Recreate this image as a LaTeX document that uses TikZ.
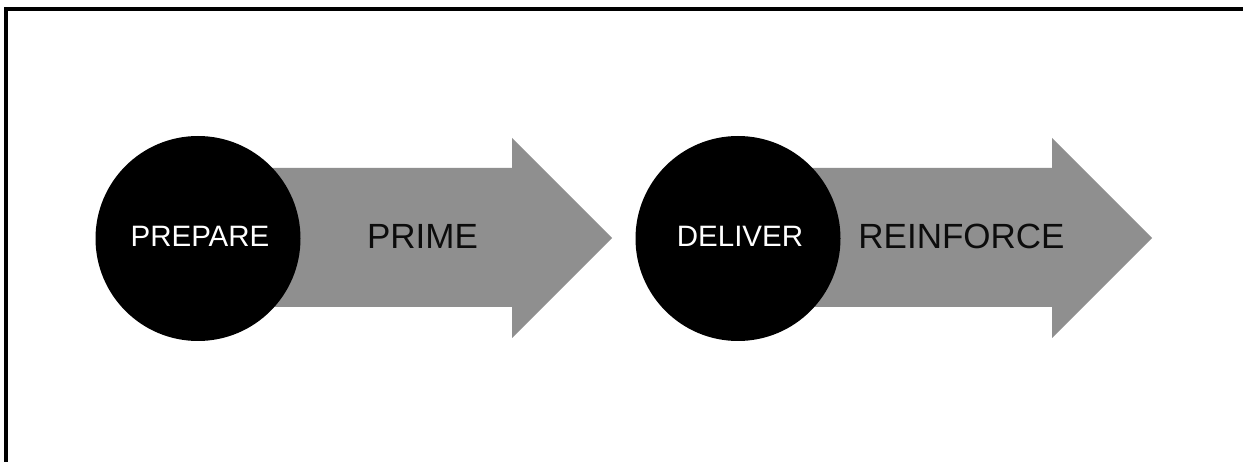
\documentclass[tikz,border=0pt]{standalone}
\usepackage{fontspec}
\setmainfont{Liberation Sans}
\definecolor{arrowgray}{RGB}{143,143,143}
\definecolor{labelink}{RGB}{12,12,12}
\tikzset{
  stagearrow/.style={fill=arrowgray, draw=none},
  stagecircle/.style={circle, fill=black, draw=none, minimum size=205pt, inner sep=0pt},
  circlelabel/.style={text=white, font=\fontsize{29.5}{30}\selectfont, inner sep=0pt, anchor=center},
  arrowlabel/.style={text=labelink, font=\fontsize{35}{36}\selectfont, inner sep=0pt, anchor=center},
  frameline/.style={draw=black, line width=3.5pt}
}
\begin{document}
\begin{tikzpicture}[x=1pt,y=-1pt]
\useasboundingbox (0,0) rectangle (1243,462);
\fill[white] (0,0) rectangle (1243,462);
% frame (top and left edges)
\draw[frameline] (6,464) -- (6,9) -- (1245,9);
% first arrow
\fill[stagearrow] (198,168) -- (512,168) -- (512,138) -- (612,238) -- (512,338) -- (512,307) -- (198,307) -- cycle;
\node[stagecircle] (c1) at (198,238.5) {};
\node[circlelabel] (t1) at (200,236) {PREPARE};
\node[arrowlabel] (a1) at (422.5,236.5) {PRIME};
% second arrow
\fill[stagearrow] (738,168) -- (1052,168) -- (1052,138) -- (1152,238) -- (1052,338) -- (1052,307) -- (738,307) -- cycle;
\node[stagecircle] (c2) at (738,238.5) {};
\node[circlelabel] (t2) at (740,236) {DELIVER};
\node[arrowlabel] (a2) at (961.5,236.5) {REINFORCE};
\end{tikzpicture}
\end{document}
